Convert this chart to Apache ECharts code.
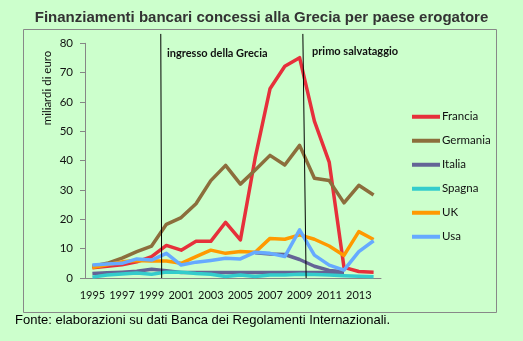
<!DOCTYPE html>
<html><head><meta charset="utf-8">
<script src="https://cdn.jsdelivr.net/npm/echarts@6/dist/echarts.min.js"></script>
<style>html,body{margin:0;padding:0;background:#ccffcc;}#c{width:523px;height:341px;}</style>
</head><body><div id="c"></div>
<script>
const years = ['1995','1996','1997','1998','1999','2000','2001','2002','2003','2004','2005','2006','2007','2008','2009','2010','2011','2012','2013','2014'];
const francia  = [3.5, 4, 4.5, 5.5, 7.3, 11.1, 9.5, 12.5, 12.5, 19, 13, 41, 64.5, 72.2, 75.1, 53.5, 39.5, 3.6, 2.2, 2];
const germania = [4, 5, 6.8, 9, 10.9, 18.3, 20.6, 25.3, 33.2, 38.4, 32, 36.8, 41.8, 38.5, 45.2, 34, 33.2, 25.6, 31.6, 28.3];
const italia   = [1.5, 1.8, 2, 2.3, 3, 2.5, 1.9, 1.9, 1.9, 1.9, 1.9, 1.9, 1.9, 1.9, 1.9, 1.9, 1.9, 1.9, null, null];
const italia2  = [null, null, null, null, null, null, null, null, null, null, null, 8.6, 8.2, 8, 6.3, 4, 2.6, 2.1, null, null];
const spagna   = [0.3, 1, 1.4, 1.7, 1.3, 2, 2, 1.5, 1.3, 0.5, 1, 0.5, 1, 1, 1.3, 1.2, 1, 0.8, 0.6, 0.4];
const uk       = [3.6, 4.5, 5.5, 6, 5.8, 5.8, 5, 7.3, 9.5, 8.4, 9, 8.8, 13.5, 13.2, 14.7, 13.2, 10.9, 7.7, 15.8, 13.1];
const usa      = [4.4, 4.8, 5, 6.5, 6.1, 8.4, 4.4, 5.4, 6, 6.7, 6.5, 8.8, 8.4, 7.3, 16.4, 7.8, 4.4, 2.7, 9, 12.7];
const yTicks = [0, 10, 20, 30, 40, 50, 60, 70, 80];
// vertical annotation lines on a continuous year index scale (top slightly above the 80 tick)
const eventTop = 83.2;
const events = [
  {label: 'ingresso della Grecia', top: 4.62, bottom: 4.68},
  {label: 'primo salvataggio', top: 14.22, bottom: 14.44}
];

const colors = {Francia:'#e6303b', Germania:'#8c6e3c', Italia:'#646496', Spagna:'#33cccc', UK:'#ff9900', Usa:'#66aaff'};
const chart = echarts.init(document.getElementById('c'));
const font = 'Lato, "Open Sans", sans-serif';
function line(name, data, color, extra) {
  return Object.assign({name, type:'line', data, symbol:'none', showSymbol:false,
    lineStyle:{width:3.5, color, join:'round'}, itemStyle:{color}, connectNulls:false, silent:true}, extra||{});
}
const plotTop = 43.3, plotBottom = 63;
const axisPx = 341 - plotBottom - plotTop;
chart.setOption({
  backgroundColor: '#ccffcc',
  animation: false,
  title: {text:'Finanziamenti bancari concessi alla Grecia per paese erogatore', left:'center', top:5,
    textStyle:{fontFamily:'"Liberation Sans", Arial, sans-serif', fontWeight:'bold', fontSize:15, color:'#333333'}},
  grid: [
    {left:85, right:142, top:plotTop, bottom:plotBottom},
    {left:85, right:142, top:plotTop - axisPx*(eventTop-80)/80, bottom:plotBottom}
  ],
  legend: {orient:'vertical', left:407, top:105, itemWidth:28, itemHeight:4, icon:'rect', itemGap:10.5,
    data:['Francia','Germania','Italia','Spagna','UK','Usa'],
    textStyle:{fontFamily:font, fontSize:11.5, color:'#111', padding:[0,0,0,-3], lineHeight:13.5}},
  xAxis: [
    {type:'category', data:years, boundaryGap:true, gridIndex:0,
     axisLine:{lineStyle:{color:'#868686', width:1}}, axisTick:{show:false},
     axisLabel:{interval:1, margin:12, fontFamily:font, fontSize:11, color:'#111'}},
    {type:'value', min:-0.5, max:19.5, show:false, gridIndex:1}
  ],
  yAxis: [
    {type:'value', min:yTicks[0], max:yTicks[yTicks.length-1], interval:10, gridIndex:0,
    axisLine:{show:true, lineStyle:{color:'#868686'}}, axisTick:{show:true, length:5, lineStyle:{color:'#868686'}},
    splitLine:{show:false},
    axisLabel:{margin:12, fontFamily:font, fontSize:11.5, color:'#111'}},
    {type:'value', min:0, max:eventTop, show:false, gridIndex:1, splitLine:{show:false}}
  ],
  series: [
    line('Francia', francia, colors.Francia),
    line('Germania', germania, colors.Germania),
    line('Italia', italia, colors.Italia),
    line('Italia ', italia2, colors.Italia),
    line('Spagna', spagna, colors.Spagna),
    line('UK', uk, colors.UK),
    line('Usa', usa, colors.Usa),
    {name:'eventi', type:'line', xAxisIndex:1, yAxisIndex:1, data:[[events[0].bottom, 0]], silent:true,
     symbol:'none', showSymbol:false, lineStyle:{opacity:0},
     markLine:{symbol:'none', silent:true, label:{show:false}, animation:false,
       lineStyle:{color:'#000', width:1, type:'solid'},
       data: events.map(e => [{coord:[e.top, eventTop]}, {coord:[e.bottom, 0]}])}}
  ],
  graphic: [
    {type:'rect', shape:{x:23.5, y:29.5, width:473, height:283}, style:{fill:null, stroke:'#888888', lineWidth:1}, silent:true},
    {type:'text', left:15, top:314, style:{text:'Fonte: elaborazioni su dati Banca dei Regolamenti Internazionali.',
      font:'13px "Liberation Sans", Arial, sans-serif', fill:'#000'}},
    {type:'text', x:47, y:88, rotation:Math.PI/2, style:{text:'miliardi di euro', font:'11.5px '+font, fill:'#111',
      textAlign:'center', textVerticalAlign:'middle'}},
    {type:'text', x:167, y:53, style:{text:events[0].label, font:'bold 11px '+font, fill:'#111', textVerticalAlign:'middle'}},
    {type:'text', x:312, y:51.5, style:{text:events[1].label, font:'bold 11px '+font, fill:'#111', textVerticalAlign:'middle'}}
  ]
});
</script></body></html>
